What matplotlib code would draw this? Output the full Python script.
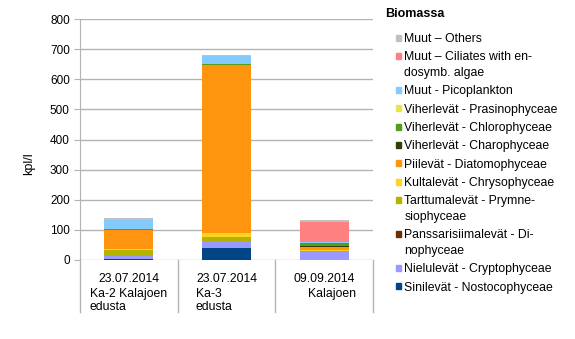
import matplotlib.pyplot as plt
from matplotlib.patches import Rectangle

plt.rcParams['font.family'] = ['Liberation Sans', 'DejaVu Sans']

# näytteet (kolme pinottua pylvästä)
samples = ["23.07.2014 Ka-2 Kalajoen edusta", "23.07.2014 Ka-3 edusta", "09.09.2014 Kalajoen"]

# lajiryhmät pinoamisjärjestyksessä alhaalta ylös
groups = [
    "Sinilevät - Nostocophyceae",
    "Nielulevät - Cryptophyceae",
    "Panssarisiimalevät - Di-\nnophyceae",
    "Tarttumalevät - Prymne-\nsiophyceae",
    "Kultalevät - Chrysophyceae",
    "Piilevät - Diatomophyceae",
    "Viherlevät - Charophyceae",
    "Viherlevät - Chlorophyceae",
    "Viherlevät - Prasinophyceae",
    "Muut - Picoplankton",
    "Muut – Ciliates with en-\ndosymb. algae",
    "Muut – Others",
]

nostoc = [4, 40, 0]
crypto = [10, 20, 26]
dino = [0, 0, 0]
prymne = [20, 17, 3]
chryso = [3, 11, 3]
diatom = [61, 558, 10]
charo = [0, 0, 3]
chloro = [5, 5, 13]
prasino = [0, 0, 0]
pico = [31, 26, 3]
ciliates = [0, 0, 65]
others = [5, 2, 6]

series = [nostoc, crypto, dino, prymne, chryso, diatom, charo, chloro,
          prasino, pico, ciliates, others]

colors = ["#004586", "#9999ff", "#6b2f00", "#b3b300", "#ffd320", "#ff950e",
          "#314004", "#579d1c", "#e6e64c", "#83caff", "#ff8080", "#c0c0c0"]

W, H = 575, 339
fig = plt.figure(figsize=(W / 100, H / 100), dpi=100)
ax = fig.add_axes([79.5 / W, (H - 260) / H, (373.5 - 79.5) / W, (260 - 19) / H])

grid_c = "#b3b3b3"
x = range(len(samples))
bottom = [0.0] * len(samples)
for vals, c in zip(series, colors):
    ax.bar(x, vals, width=0.5, bottom=bottom, color=c, zorder=3)
    bottom = [b + v for b, v in zip(bottom, vals)]

ax.set_xlim(-0.5, 2.5)
ax.set_ylim(0, 800)
ax.set_yticks(range(0, 801, 100))
ax.yaxis.grid(True, color=grid_c, linewidth=1, zorder=0)
ax.set_xticks([])
for s in ["top", "right", "bottom"]:
    ax.spines[s].set_visible(False)
ax.spines["left"].set_color(grid_c)
ax.tick_params(axis="y", length=4, color=grid_c, labelsize=8.5, pad=3)
ax.set_ylabel("kpl/l", fontsize=9)
ax.yaxis.set_label_coords(-0.151, 0.40)

# kategoriarajat ja akselin jatke nimiöiden alle
for xs in [-0.5, 0.5, 1.5, 2.5]:
    ax.plot([xs, xs], [0, -0.216], color=grid_c, lw=1,
            transform=ax.get_xaxis_transform(), clip_on=False)

# luokkanimiöt riveittäin
xt = ax.get_xaxis_transform()
lab_kw = dict(transform=xt, fontsize=8.8, va="baseline")
rows = [-0.09, -0.152, -0.207]
ax.text(0, rows[0], "23.07.2014", ha="center", **lab_kw)
ax.text(0, rows[1], "Ka-2 Kalajoen", ha="center", **lab_kw)
ax.text(-0.393, rows[2], "edusta", ha="left", **lab_kw)
ax.text(1, rows[0], "23.07.2014", ha="center", **lab_kw)
ax.text(0.685, rows[1], "Ka-3", ha="left", **lab_kw)
ax.text(0.685, rows[2], "edusta", ha="left", **lab_kw)
ax.text(2, rows[0], "09.09.2014", ha="center", **lab_kw)
ax.text(2.32, rows[1], "Kalajoen", ha="right", **lab_kw)

# selite: neliö + nimi, rivitetyt nimet rivi kerrallaan
fig.text(385 / W, 1 - 14 / H, "Biomassa", fontsize=9, fontweight="bold",
         va="center", ha="left")
y = 37.7
for name, c in zip(groups[::-1], colors[::-1]):
    fig.add_artist(Rectangle((395.5 / W, 1 - (y + 3) / H), 5.5 / W, 6 / H,
                             color=c, transform=fig.transFigure))
    for i, line in enumerate(name.split("\n")):
        fig.text(404.5 / W, 1 - (y + 4.4 + 15.7 * i) / H, line, fontsize=8.8,
                 va="baseline", ha="left")
    y += 18.3 + 15.7 * name.count("\n")

fig.savefig("out.png", dpi=100)
